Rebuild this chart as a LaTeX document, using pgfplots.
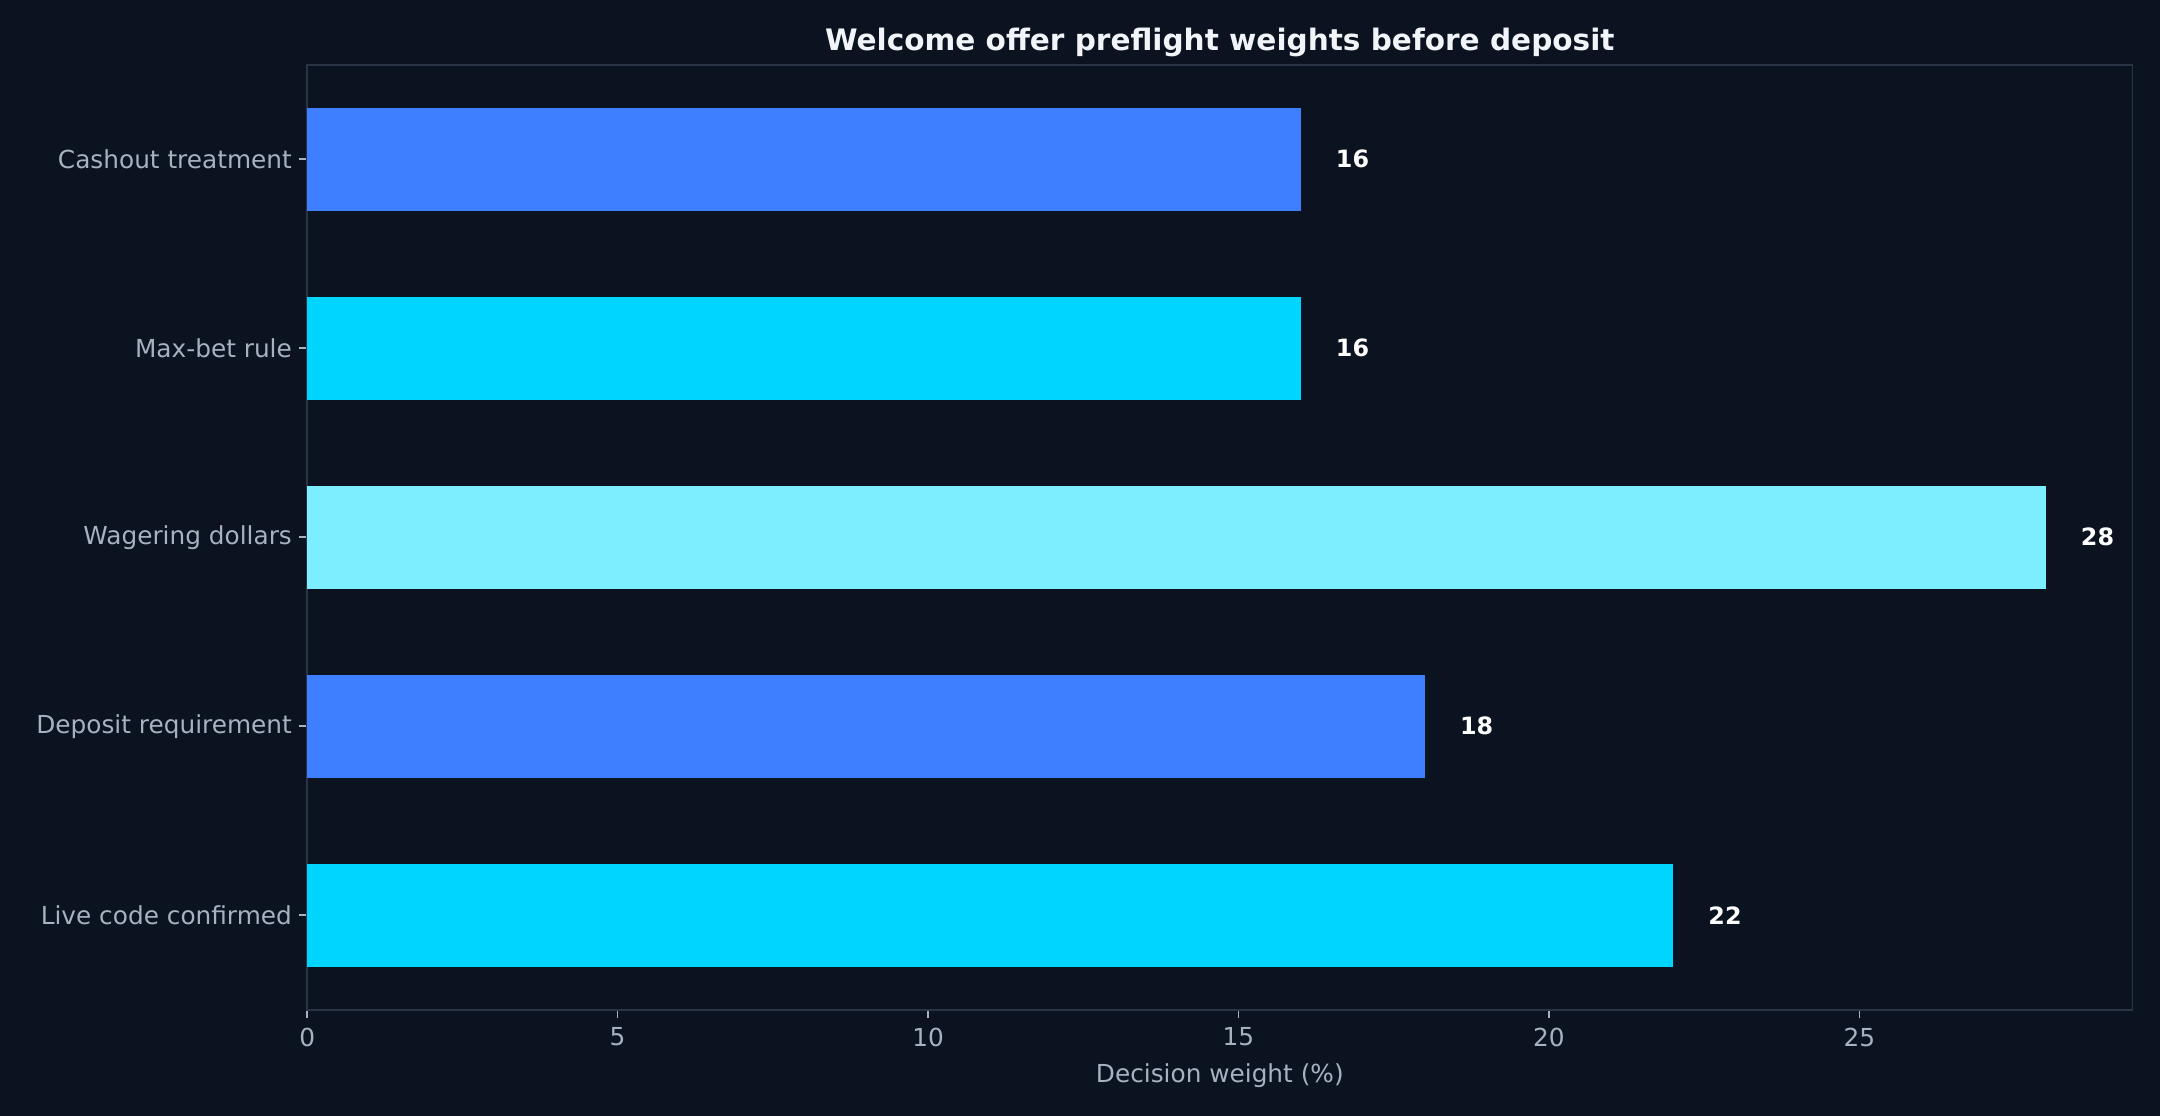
\documentclass[border=0pt]{standalone}
\usepackage{pgfplots}
\pgfplotsset{compat=1.18}
\usepackage{fontspec}
\setmainfont{DejaVu Sans}
\definecolor{bg}{HTML}{0B1220}
\definecolor{spine}{HTML}{2B3445}
\definecolor{labc}{HTML}{A7B1C2}
\definecolor{titc}{HTML}{F1F5F9}
\definecolor{cblue}{HTML}{3D7FFF}
\definecolor{ccyan}{HTML}{00D5FF}
\definecolor{clight}{HTML}{7DEEFF}
\begin{document}
\begin{tikzpicture}
\fill[bg] (0,0) rectangle (1128.96bp,583.2bp);
\begin{axis}[
  at={(160.56bp,55.44bp)}, anchor=south west,
  scale only axis, width=954bp, height=493.92bp,
  xbar, bar width=54bp, bar shift=0pt,
  xmin=0, xmax=29.4, ymin=-0.5, ymax=4.5,
  ytick={0,1,2,3,4},
  yticklabels={Live code confirmed, Deposit requirement, Wagering dollars, Max-bet rule, Cashout treatment},
  xtick={0,5,10,15,20,25},
  xtick pos=bottom, ytick pos=left,
  tick align=outside, major tick length=4.5bp,
  tick style={color=labc, line width=0.8bp},
  axis line style={color=spine, line width=0.8bp},
  ticklabel style={font=\fontsize{13}{15}\selectfont, color=labc},
  xticklabel style={yshift=-1.4bp},
  /pgf/number format/assume math mode=true,
  xlabel={Decision weight (\%)},
  x label style={at={(axis description cs:0.5,0)}, anchor=center, yshift=-34.4bp, font=\fontsize{13}{15}\selectfont, color=labc},
  title={Welcome offer preflight weights before deposit},
  title style={at={(axis description cs:0.5,1)}, anchor=center, yshift=5.8bp, font=\bfseries\fontsize{15.5}{18}\selectfont, color=titc},
  point meta=x,
  nodes near coords,
  nodes near coords style={font=\bfseries\fontsize{12.5}{14}\selectfont, color=white, anchor=west, xshift=15bp},
  axis background/.style={fill=bg},
]
\addplot[fill=ccyan, draw=none] coordinates {(22,0)};
\addplot[fill=cblue, draw=none] coordinates {(18,1)};
\addplot[fill=clight, draw=none] coordinates {(28,2)};
\addplot[fill=ccyan, draw=none] coordinates {(16,3)};
\addplot[fill=cblue, draw=none] coordinates {(16,4)};
\end{axis}
\pgfresetboundingbox
\useasboundingbox (0,0) rectangle (1128.96bp,583.2bp);
\end{tikzpicture}
\end{document}
